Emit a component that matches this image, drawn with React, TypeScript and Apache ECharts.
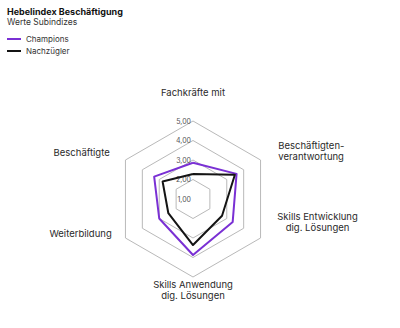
import React, { useEffect, useRef } from "react";
import * as echarts from "echarts";

const indicatorNames = [
  "Fachkräfte mit",
  "Beschäftigte",
  "Weiterbildung",
  "Skills Anwendung\ndig. Lösungen",
  "Skills Entwicklung\ndig. Lösungen",
  "Beschäftigten-\nverantwortung",
];
const seriesNames = ["Champions", "Nachzügler"];
const championsValues = [2.86, 3.3, 3.0, 3.87, 3.35, 3.58];
const nachzueglerValues = [2.28, 2.8, 2.46, 3.36, 2.72, 3.48];
const axisMin = 1;
const axisMax = 5;

const FONT = "Inter, 'Noto Sans', sans-serif";
const PURPLE = "#7a30d4";
const BLACK = "#141414";

// label style key per indicator index, and extra spacer height to lift multi-line labels
const labelKeys = ["top", "ul", "ll", "bot", "lr", "ur"];
const spacerKeys: Record<string, string> = { lr: "sp34", ur: "sp17" };

export default function App() {
  const ref = useRef<HTMLDivElement>(null);
  useEffect(() => {
    if (!ref.current) return;
    const chart = echarts.init(ref.current, undefined, { renderer: "svg" });
    const base = { fontSize: 9.5, fontFamily: FONT, color: "#2a2a2a", lineHeight: 11 };
    chart.setOption({
      animation: false,
      title: {
        text: "Hebelindex Beschäftigung",
        subtext: "Werte Subindizes",
        left: 2,
        top: 2,
        itemGap: 1,
        textStyle: { fontSize: 9, fontWeight: "bold", fontFamily: FONT, color: "#111" },
        subtextStyle: { fontSize: 8.5, fontFamily: FONT, color: "#333" },
      },
      legend: {
        data: seriesNames,
        orient: "vertical",
        left: 2,
        top: 30,
        icon: "rect",
        itemWidth: 14,
        itemHeight: 2,
        itemGap: 4,
        textStyle: { fontSize: 8, fontFamily: FONT, color: "#333" },
      },
      radar: {
        center: [193, 199],
        radius: 78,
        splitNumber: 4,
        nameGap: 2,
        shape: "polygon",
        axisLine: { show: false },
        axisTick: { show: false },
        splitArea: { show: false },
        splitLine: { lineStyle: { color: "#b9b9b9", width: 1 } },
        axisLabel: { show: false },
        axisName: {
          fontSize: 9.5,
          fontFamily: FONT,
          color: "#2a2a2a",
          formatter: (name: string) => {
            const idx = indicatorNames.indexOf(name);
            const key = labelKeys[idx];
            const lines = name.split("\n").map((l) => `{${key}|${l}}`);
            if (spacerKeys[key]) lines.push(`{${spacerKeys[key]}| }`);
            return lines.join("\n");
          },
          rich: {
            top: { ...base, padding: [0, 0, 20, 0] },
            ul: { ...base, padding: [0, 14, 14, 0] },
            ll: { ...base, padding: [0, 12, 12, 0] },
            bot: { ...base, align: "center" },
            lr: { ...base, padding: [0, 0, 0, 15], align: "center" },
            ur: { ...base, padding: [0, 0, 0, 16] },
            sp34: { fontSize: 2, lineHeight: 34 },
            sp17: { fontSize: 2, lineHeight: 17 },
          },
        },
        indicator: indicatorNames.map((name, i) => ({
          name,
          min: axisMin,
          max: axisMax,
          ...(i === 0
            ? {
                axisLabel: {
                  show: true,
                  fontSize: 7,
                  fontFamily: FONT,
                  color: "#555",
                  margin: 2,
                  formatter: (v: number) => v.toFixed(2).replace(".", ","),
                },
              }
            : {}),
        })),
      },
      series: [
        {
          type: "radar",
          symbol: "none",
          data: [
            {
              name: seriesNames[0],
              value: championsValues,
              lineStyle: { color: PURPLE, width: 2 },
              itemStyle: { color: PURPLE },
            },
            {
              name: seriesNames[1],
              value: nachzueglerValues,
              lineStyle: { color: BLACK, width: 2 },
              itemStyle: { color: BLACK },
            },
          ],
        },
      ],
    });
    return () => chart.dispose();
  }, []);
  return (
    <div
      ref={ref}
      style={{ position: "fixed", left: 0, top: 0, width: 400, height: 328, background: "#fff" }}
    />
  );
}
